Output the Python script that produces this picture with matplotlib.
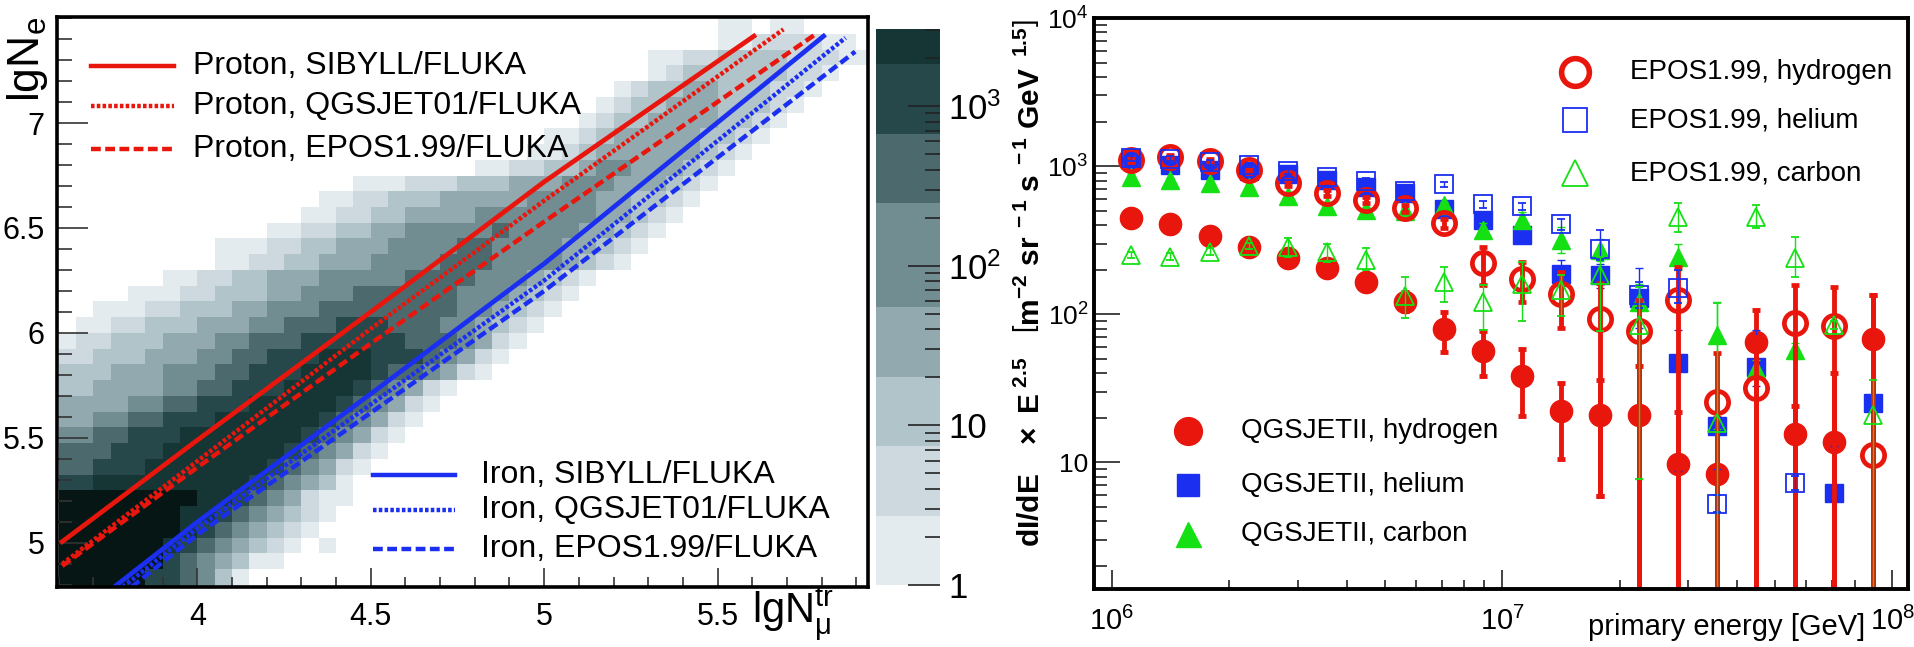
import numpy as np
import matplotlib
matplotlib.use("Agg")
import matplotlib.pyplot as plt
from matplotlib.colors import ListedColormap, BoundaryNorm
from matplotlib.ticker import MultipleLocator, FixedLocator, FuncFormatter, NullFormatter, LogLocator

FONT = "Liberation Sans"
plt.rcParams["font.family"] = [FONT, "DejaVu Sans"]
plt.rcParams["mathtext.fontset"] = "custom"
plt.rcParams["mathtext.rm"] = FONT
plt.rcParams["mathtext.it"] = FONT + ":italic"
plt.rcParams["mathtext.bf"] = FONT + ":bold"
plt.rcParams["mathtext.default"] = "regular"

RED = "#e8160c"
BLUE = "#1b2ff0"
GREEN = "#14e014"

# ---------- left panel: lgNe vs lgNmu histogram ----------
HIST_X0, HIST_DX, HIST_NX = 3.6, 0.05, 47
HIST_Y0, HIST_DY, HIST_NY = 4.725, 0.075, 37
# (first column, shade level per cell) for each row, bottom row first; 0 = empty
HIST_ROWS = [
    (0, "99999776531"),
    (0, "99999776531"),
    (0, "9999997654311"),
    (0, "99999987654321010"),
    (0, "999999987654321"),
    (0, "9999999887654321"),
    (0, "99999999887654211"),
    (0, "77888888888765431"),
    (0, "667778888888765421"),
    (0, "6667778888888765421"),
    (0, "55667778888888765421"),
    (0, "445566777888888765421"),
    (0, "4444556677788888765421"),
    (0, "33444455667778888765421"),
    (0, "3334445556677788887665421"),
    (0, "22333444556677788877765421"),
    (0, "122333444556667777776665421"),
    (1, "112233344455666777666554321"),
    (2, "111223334455566666666554321"),
    (4, "11122333445556666665554321"),
    (6, "1122334445555566665554321"),
    (9, "112233444555566655554321"),
    (9, "1112233444555566555544321"),
    (12, "11223344555556555544321"),
    (14, "1122334444555555544321"),
    (15, "1122333444445555443321"),
    (17, "111222333444555444321"),
    (24, "112233455444321"),
    (27, "1123444444321"),
    (28, "1123444443321"),
    (30, "123344443321"),
    (31, "123344433321"),
    (32, "123344333221"),
    (34, "12333333221"),
    (34, "1122333322211"),
    (38, "11222211"),
    (38, "11011"),
]
SHADES = ["#e4ebee", "#cdd9de", "#b1c4c9", "#92aaaf", "#718d92",
          "#4c6a6d", "#27484a", "#163535", "#061614"]
CB_LEVELS = [1, 2.72, 7.4, 20.2, 54.8, 247, 667, 1840, 3040]

# lgNmu / lgNe curves
P_SIBYLL_X = [3.61, 4.0, 4.5, 5.0, 5.605]
P_SIBYLL_Y = [5.006, 5.49, 6.10, 6.72, 7.414]
P_QGSJET_X = [3.61, 4.0, 4.5, 5.0, 5.69]
P_QGSJET_Y = [4.90, 5.39, 6.02, 6.63, 7.446]
P_EPOS_X = [3.61, 4.0, 4.5, 5.0, 5.78]
P_EPOS_Y = [4.89, 5.36, 5.95, 6.53, 7.42]
FE_SIBYLL_X = [3.76, 4.0, 4.5, 5.0, 5.806]
FE_SIBYLL_Y = [4.79, 5.10, 5.71, 6.33, 7.414]
FE_QGSJET_X = [3.785, 4.0, 4.5, 5.0, 5.869]
FE_QGSJET_Y = [4.79, 5.07, 5.66, 6.25, 7.406]
FE_EPOS_X = [3.81, 4.0, 4.5, 5.0, 5.897]
FE_EPOS_Y = [4.79, 5.04, 5.62, 6.20, 7.34]

# ---------- right panel: spectra ----------
nan = np.nan
LG_E = [6.05, 6.15, 6.25, 6.35, 6.45, 6.55, 6.65, 6.75, 6.85, 6.95,
        7.05, 7.15, 7.25, 7.35, 7.45, 7.55, 7.65, 7.75, 7.85, 7.95]

QGS_H = [445, 406, 340, 283, 239, 205, 164, 122, 79.5, 56.8, 38.1, 22.1, 20.8, 20.8, 9.7, 8.4, 65, 15.5, 13.7, 68]
QGS_H_LO = [430, 392, 328, 273, 230, 197, 157, 105, 56, 38.5, 20.7, 10.6, 5.9, 0, 0, 0, 0, 0, 0, 0]
QGS_H_HI = [460, 420, 352, 293, 248, 213, 171, 142, 103, 77, 58, 34.5, 36, 45, 22, 20, 107, 24, 40, 135]

EPOS_H = [1109, 1155, 1086, 940, 772, 661, 590, 519, 411, 221, 173, 137, 92.9, 77, 125, 25.5, 31.8, 88, 82.8, 11.3]
EPOS_H_LO = [1070, 1115, 1048, 905, 740, 632, 562, 492, 385, 158, 122, 81, 5.9, 0, 0, 0, 0, 0, 0, 0]
EPOS_H_HI = [1150, 1196, 1125, 975, 805, 690, 618, 546, 440, 286, 227, 194, 162, 125, 210, 55, 70, 158, 153, 135]

QGS_HE = [1119, 1016, 940, 921, 883, 805, 726, 655, 514, 431, 341, 186, 184, 129, 46.7, 17.6, 44, nan, 6.2, 25.4]
QGS_HE_LO = [1070, 970, 895, 875, 840, 765, 690, 622, 488, 410, 320, 156, 150, 81, 8.7, 9.0, 32.7, nan, 0, 23]
QGS_HE_HI = [1170, 1065, 985, 965, 925, 845, 762, 688, 540, 452, 362, 233, 220, 206, 78.7, 30, 78.7, nan, 12.9, 28]

EPOS_HE = [1130, 1124, 1060, 1016, 921, 848, 796, 682, 753, 555, 535, 405, 276, 135, 151, 5.25, nan, 7.3, nan, nan]
EPOS_HE_LO = [1090, 1085, 1020, 980, 885, 815, 765, 655, 720, 525, 505, 370, 232, 110, 120, 4.6, nan, 6.5, nan, nan]
EPOS_HE_HI = [1170, 1165, 1100, 1055, 960, 880, 828, 710, 785, 585, 565, 440, 371, 165, 200, 6.0, nan, 8.1, nan, nan]

QGS_C = [847, 805, 773, 720, 629, 541, 507, 500, 545, 371, 433, 318, 272, 122, 245, 72.8, 43, 57, nan, nan]
QGS_C_LO = [815, 775, 745, 693, 605, 520, 487, 480, 520, 330, 380, 259, 230, 7.7, 200, 16.7, 38, 50, nan, nan]
QGS_C_HI = [880, 835, 802, 748, 653, 562, 527, 520, 570, 415, 490, 390, 320, 160, 300, 122, 49, 64, nan, nan]

EPOS_C = [252, 245, 265, 289, 286, 265, 233, 132, 166, 122, 160, 146, 184, 85, 456, 18.5, 456, 239, 85, 21]
EPOS_C_LO = [240, 233, 252, 275, 244, 224, 199, 94, 122, 78.7, 90, 97, 76.6, 7.7, 361, 0, 380, 180, 80, 0]
EPOS_C_HI = [265, 258, 279, 305, 327, 300, 280, 180, 210, 158, 227, 184, 245, 154, 562, 120, 546, 334, 90, 36]


def pow10_label(v, pos=None):
    e = int(round(np.log10(v)))
    if e == 0:
        return "1"
    if e == 1:
        return "10"
    return r"$10^{%d}$" % e


def key_line(ax, y, text, color, ls, x0, x1, tx, fs):
    ax.plot([x0, x1], [y, y], color=color, ls=ls, lw=3.2,
            transform=ax.transAxes, clip_on=False, zorder=6)
    ax.text(tx, y, text, transform=ax.transAxes, va="center", ha="left", fontsize=fs)


def key_marker(ax, y, text, x, tx, fs, **style):
    ax.plot([x], [y], transform=ax.transAxes, clip_on=False, ls="none", zorder=9, **style)
    ax.text(tx, y, text, transform=ax.transAxes, va="center", ha="left", fontsize=fs)


def plot_series(ax, vals, lo, hi, zorder, ecolor, elw, **style):
    e = 10 ** np.array(LG_E)
    v = np.array(vals, float)
    lo = np.maximum(np.array(lo, float), 1e-2)
    hi = np.array(hi, float)
    ax.errorbar(e, v, yerr=[v - lo, hi - v], ls="none", ecolor=ecolor, elinewidth=elw,
                capsize=3, capthick=elw, zorder=zorder, **style)


def draw_left(fig):
    ax = fig.add_axes([0.02977, 0.09274, 0.42350, 0.88099])
    grid = np.zeros((HIST_NY, HIST_NX))
    for j, (start, levels) in enumerate(HIST_ROWS):
        for k, ch in enumerate(levels):
            grid[j, start + k] = int(ch)
    xe = HIST_X0 + HIST_DX * np.arange(HIST_NX + 1)
    ye = HIST_Y0 + HIST_DY * np.arange(HIST_NY + 1)
    ax.pcolormesh(xe, ye, np.ma.masked_equal(grid, 0), cmap=ListedColormap(SHADES),
                  norm=BoundaryNorm(np.arange(0.5, 10.5, 1.0), 9), shading="flat", zorder=1)

    ax.plot(P_SIBYLL_X, P_SIBYLL_Y, color=RED, lw=3.4, zorder=3)
    ax.plot(P_QGSJET_X, P_QGSJET_Y, color=RED, lw=3.2, ls=(0, (0.8, 0.5)), zorder=3)
    ax.plot(P_EPOS_X, P_EPOS_Y, color=RED, lw=3.2, ls=(0, (2.2, 1.0)), zorder=3)
    ax.plot(FE_SIBYLL_X, FE_SIBYLL_Y, color=BLUE, lw=3.4, zorder=3)
    ax.plot(FE_QGSJET_X, FE_QGSJET_Y, color=BLUE, lw=3.2, ls=(0, (0.8, 0.5)), zorder=3)
    ax.plot(FE_EPOS_X, FE_EPOS_Y, color=BLUE, lw=3.2, ls=(0, (2.2, 1.0)), zorder=3)

    ax.set_xlim(3.595, 5.934)
    ax.set_ylim(4.79, 7.505)
    ax.xaxis.set_major_locator(FixedLocator([4.0, 4.5, 5.0, 5.5]))
    ax.xaxis.set_minor_locator(MultipleLocator(0.1))
    ax.yaxis.set_major_locator(FixedLocator([5.0, 5.5, 6.0, 6.5, 7.0]))
    ax.yaxis.set_minor_locator(MultipleLocator(0.1))
    fmt = FuncFormatter(lambda v, p: "%g" % v)
    ax.xaxis.set_major_formatter(fmt)
    ax.yaxis.set_major_formatter(fmt)
    ax.tick_params(which="both", direction="in", top=False, right=False, color="#333333", width=1.2)
    ax.tick_params(axis="y", which="major", length=22, labelsize=22, pad=9)
    ax.tick_params(axis="y", which="minor", length=11)
    ax.tick_params(axis="x", which="major", length=14, labelsize=22, pad=11)
    ax.tick_params(axis="x", which="minor", length=7)
    for s in ax.spines.values():
        s.set_linewidth(2.6)
        s.set_zorder(10)

    ax.text(-0.037, 1.0, r"lgN$_{e}$", transform=ax.transAxes, rotation=90,
            ha="center", va="top", fontsize=32)
    ax.text(0.958, -0.047, r"lgN$_{μ}^{tr}$", transform=ax.transAxes,
            ha="right", va="center", fontsize=30)

    key_line(ax, 0.914, "Proton, SIBYLL/FLUKA", RED, "-", 0.042, 0.144, 0.168, 23)
    key_line(ax, 0.844, "Proton, QGSJET01/FLUKA", RED, (0, (0.8, 0.5)), 0.042, 0.144, 0.168, 23)
    key_line(ax, 0.768, "Proton, EPOS1.99/FLUKA", RED, (0, (2.2, 1.0)), 0.042, 0.144, 0.168, 23)
    key_line(ax, 0.196, "Iron, SIBYLL/FLUKA", BLUE, "-", 0.39, 0.491, 0.523, 23)
    key_line(ax, 0.135, "Iron, QGSJET01/FLUKA", BLUE, (0, (0.8, 0.5)), 0.39, 0.491, 0.523, 23)
    key_line(ax, 0.067, "Iron, EPOS1.99/FLUKA", BLUE, (0, (2.2, 1.0)), 0.39, 0.491, 0.523, 23)

    # colour scale
    cb = fig.add_axes([0.45744, 0.09583, 0.03342, 0.85935])
    cb.set_yscale("log")
    for k in range(8):
        cb.bar(0.5, CB_LEVELS[k + 1] - CB_LEVELS[k], bottom=CB_LEVELS[k], width=1.0,
               color=SHADES[k], edgecolor="none")
    cb.set_xlim(0, 1)
    cb.set_ylim(CB_LEVELS[0], CB_LEVELS[-1])
    for s in cb.spines.values():
        s.set_visible(False)
    cb.set_xticks([])
    cb.yaxis.tick_right()
    cb.yaxis.set_major_locator(FixedLocator([1, 10, 100, 1000]))
    cb.yaxis.set_minor_locator(LogLocator(base=10, subs=np.arange(2, 10)))
    cb.yaxis.set_major_formatter(FuncFormatter(pow10_label))
    cb.yaxis.set_minor_formatter(NullFormatter())
    cb.tick_params(axis="y", which="both", direction="in", color="#222222", width=1.2)
    cb.tick_params(axis="y", which="major", length=23, labelsize=25, pad=6)
    cb.tick_params(axis="y", which="minor", length=11)


def draw_right(fig):
    ax = fig.add_axes([0.57128, 0.08964, 0.42507, 0.88253])
    ax.set_xscale("log")
    ax.set_yscale("log")

    plot_series(ax, QGS_H, QGS_H_LO, QGS_H_HI, 3, RED, 3.5,
                marker="o", ms=16, mfc=RED, mec=RED)
    plot_series(ax, QGS_HE, QGS_HE_LO, QGS_HE_HI, 4, BLUE, 1.0,
                marker="s", ms=12.5, mfc=BLUE, mec=BLUE)
    plot_series(ax, QGS_C, QGS_C_LO, QGS_C_HI, 5, GREEN, 1.0,
                marker="^", ms=13.5, mfc=GREEN, mec=GREEN)
    plot_series(ax, EPOS_H, EPOS_H_LO, EPOS_H_HI, 6, RED, 3.5,
                marker="o", ms=16, mfc="none", mec=RED, mew=3.4)
    plot_series(ax, EPOS_HE, EPOS_HE_LO, EPOS_HE_HI, 7, BLUE, 1.0,
                marker="s", ms=12.5, mfc="none", mec=BLUE, mew=1.3)
    plot_series(ax, EPOS_C, EPOS_C_LO, EPOS_C_HI, 8, GREEN, 1.0,
                marker="^", ms=13, mfc="none", mec=GREEN, mew=1.3)

    ax.set_xlim(10 ** 5.954, 10 ** 8.04)
    ax.set_ylim(1.4, 1e4)
    for axis in (ax.xaxis, ax.yaxis):
        axis.set_major_locator(LogLocator(base=10, numticks=10))
        axis.set_minor_locator(LogLocator(base=10, subs=np.arange(2, 10), numticks=20))
        axis.set_major_formatter(FuncFormatter(pow10_label))
        axis.set_minor_formatter(NullFormatter())
    ax.tick_params(which="both", direction="in", top=False, right=False, color="#222222", width=1.2)
    ax.tick_params(axis="y", which="major", length=19, labelsize=19, pad=4)
    ax.tick_params(axis="y", which="minor", length=9)
    ax.tick_params(axis="x", which="major", length=14, labelsize=21, pad=13)
    ax.tick_params(axis="x", which="minor", length=6.5)
    for s in ax.spines.values():
        s.set_linewidth(2.8)
        s.set_zorder(10)

    ax.text(0.948, -0.066, "primary energy [GeV]", transform=ax.transAxes,
            ha="right", va="center", fontsize=21)
    ax.text(-0.079, 0.997,
            r"$\mathbf{dI/dE\ \ \ \times\ E^{\ 2.5}\ \ \ \left[m^{-2}\ sr^{\ -1}\ s^{\ -1}\ GeV^{\ \ 1.5}\right]}$",
            transform=ax.transAxes, rotation=90, ha="center", va="top", fontsize=21.5)

    key_marker(ax, 0.905, "EPOS1.99, hydrogen", 0.591, 0.658, 20,
               marker="o", ms=20, mfc="none", mec=RED, mew=4)
    key_marker(ax, 0.821, "EPOS1.99, helium", 0.591, 0.658, 20,
               marker="s", ms=17, mfc="none", mec=BLUE, mew=1.3)
    key_marker(ax, 0.728, "EPOS1.99, carbon", 0.591, 0.658, 20,
               marker="^", ms=19, mfc="none", mec=GREEN, mew=1.3)
    key_marker(ax, 0.277, "QGSJETII, hydrogen", 0.115, 0.181, 20,
               marker="o", ms=20, mfc=RED, mec=RED)
    key_marker(ax, 0.182, "QGSJETII, helium", 0.115, 0.181, 20,
               marker="s", ms=16, mfc=BLUE, mec=BLUE)
    key_marker(ax, 0.096, "QGSJETII, carbon", 0.115, 0.181, 20,
               marker="^", ms=18, mfc=GREEN, mec=GREEN)


def main():
    fig = plt.figure(figsize=(19.15, 6.47), dpi=100)
    draw_left(fig)
    draw_right(fig)
    fig.savefig("out.png", dpi=100)


if __name__ == "__main__":
    main()
